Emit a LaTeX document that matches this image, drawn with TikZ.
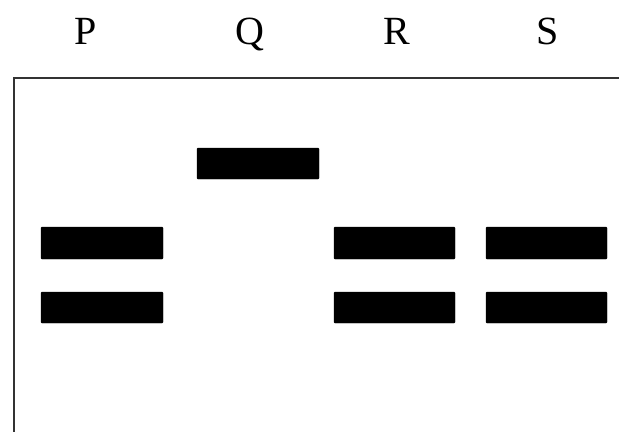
\documentclass[tikz,border=0pt]{standalone}
\usepackage{fontspec}
\setmainfont{Liberation Serif}
\usepackage{tikz}
\tikzset{
	band/.style={fill=black, draw=black, rounded corners=1pt},
	lanelabel/.style={anchor=base, inner sep=0pt, font=\fontsize{40}{48}\selectfont}
}

\begin{document}
\begin{tikzpicture}[x=1pt, y=-1pt]
				\useasboundingbox (0,0) rectangle (619,432);
				
				% lane labels
				\node[lanelabel] (labelP) at (86,44) {P};
				\node[lanelabel] (labelQ) at (250,44) {Q};
				\node[lanelabel] (labelR) at (397,44) {R};
				\node[lanelabel] (labelS) at (548,44) {S};
				
				% gel frame
				\draw[line width=2pt, black!80] (619,78) -- (14,78) -- (14,432);
				
				% lane P
				\draw[band] (41,227) rectangle (163,259);
				\draw[band] (41,292) rectangle (163,323);
				
				% lane Q
				\draw[band] (197,148) rectangle (319,179);
				
				% lane R
				\draw[band] (334,227) rectangle (455,259);
				\draw[band] (334,292) rectangle (455,323);
				
				% lane S
				\draw[band] (486,227) rectangle (607,259);
				\draw[band] (486,292) rectangle (607,323);
			\end{tikzpicture}
\end{document}
